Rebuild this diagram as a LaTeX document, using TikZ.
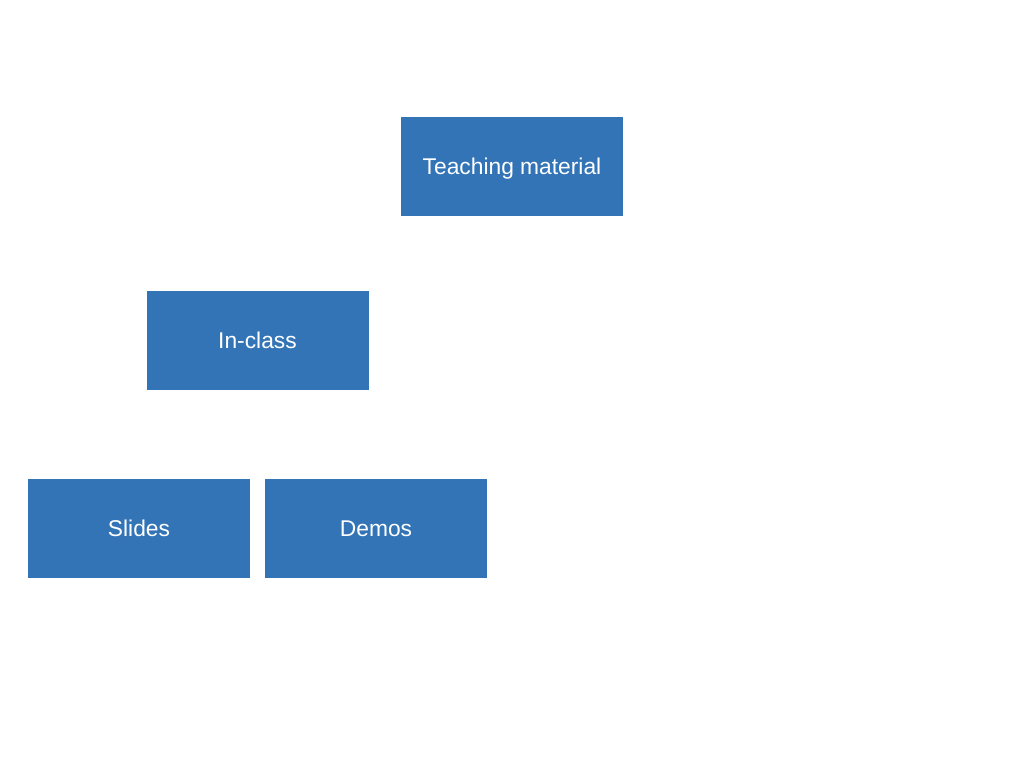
\documentclass[tikz,border=0pt]{standalone}
\usepackage{fontspec}
\setmainfont{Liberation Sans}
\definecolor{boxblue}{HTML}{3274B6}
\begin{document}
\begin{tikzpicture}[x=1pt,y=-1pt,
  box/.style={fill=boxblue,draw=none,minimum width=222pt,minimum height=99pt,inner sep=0pt,text height=16.3pt,text depth=0pt,text=white,font=\fontsize{22.8}{26}\selectfont}]
\useasboundingbox[fill=white] (0,0) rectangle (1024,768);
\node[box] (teach) at (512,166.5) {Teaching material};
\node[box] (inclass) at (257.5,340.5) {In-class};
\node[box] (slides) at (139,528.5) {Slides};
\node[box] (demos) at (376,528.5) {Demos};
\end{tikzpicture}
\end{document}
